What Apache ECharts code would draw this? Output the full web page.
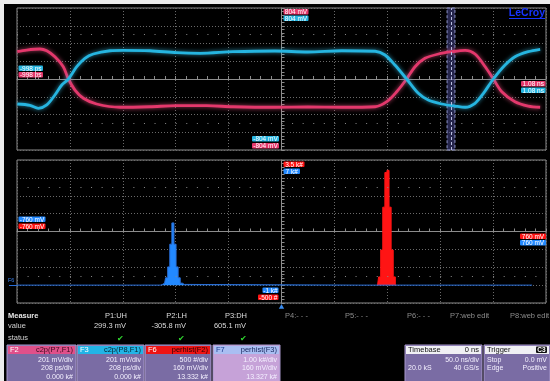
<!DOCTYPE html>
<html>
<head>
<meta charset="utf-8">
<script src="https://cdn.jsdelivr.net/npm/echarts@6/dist/echarts.min.js"></script>
<style>
html, body { margin: 0; padding: 0; background: #000; }
#main { width: 550px; height: 381px; }
</style>
</head>
<body>
<div id="main"></div>
<script>
// F3 (cyan) and F2 (pink) eye traces: time in ps, level in mV
const cyanTime  = [-997,-947,-914,-881,-849,-822,-796,-763,-731,-698,-632,-581,-475,-370,-278,-149,16,146,279,410,449,488,534,580,619,672,724,764,803,836,875,921,960,1012,1059];
const cyanLevel = [-283,-298,-332,-294,-181,-68,0,139,234,283,320,325,320,298,291,309,317,306,320,314,272,158,0,-162,-238,-283,-306,-320,-275,-162,0,158,252,309,336];
const pinkTime  = [-997,-960,-908,-881,-849,-816,-796,-770,-737,-685,-593,-475,-370,-252,-149,16,146,279,410,456,495,534,567,606,659,711,764,803,843,875,908,960,1012,1059];
const pinkLevel = [309,328,340,320,252,139,0,-125,-218,-283,-320,-314,-302,-302,-314,-320,-317,-320,-314,-257,-144,0,139,234,283,309,325,283,139,0,-144,-257,-306,-320];

// Level histograms: bin centres in mV and counts
const binWidth = 6;
const f7Centers = [-342,-336,-330,-324,-318,-312,-306,-300,-294,-288,-282];
const f7Counts  = [40,110,410,1020,2290,3480,2290,1020,410,110,40];
const f6Centers = [282,288,294,300,306,312,318,324];
const f6Counts  = [230,980,2180,3150,3210,2180,980,230];

// Axis extents
const timeRange  = [-998, 1082];   // ps
const levelRange = [-804, 804];    // mV (201 mV/div)
const histRange  = [-760, 760];    // mV
const f6Range    = [-500, 3500];   // counts (500/div)
const f7Range    = [-1000, 7000];  // counts (1k/div)
const histEnd    = 720;            // where the F7 baseline trace ends
const cursorBand = [693, 724];     // ps

// Readout texts
const upperTags = { left: '-998 ps', right: '1.08 ns', top: '804 mV', bottom: '-804 mV' };
const lowerTags = { left: '-760 mV', right: '760 mV', topRed: '3.5 k#', topBlue: '7 k#', botBlue: '-1 k#', botRed: '-500 #' };
const paramNames  = ['P1:UH', 'P2:LH', 'P3:DH'];
const paramValues = ['299.3 mV', '-305.8 mV', '605.1 mV'];
const spareParams = ['P4:- - -', 'P5:- - -', 'P6:- - -', 'P7:web edit', 'P8:web edit'];

const CYAN = '#26b5e0', PINK = '#e4386c', RED = '#ff1414', BLUE = '#2289ff';
const FONT = '"Liberation Sans", Arial, sans-serif';
const fnt = (s, w) => (w || 'normal') + ' ' + s + 'px ' + FONT;

function steps(centers, counts, lo, hi) {
  const pts = [];
  if (lo != null) pts.push([lo, 0]);
  pts.push([centers[0] - binWidth, 0]);
  centers.forEach((c, i) => pts.push([c, counts[i]]));
  pts.push([centers[centers.length - 1] + binWidth, 0]);
  if (hi != null) pts.push([hi, 0]);
  return pts;
}

function txt(x, y, s, fill, size, align, weight, z) {
  const a = align || 'left';
  return { type: 'text', x: x, y: y, z: z || 100,
    style: { text: s, fill: fill, font: fnt(size, weight), align: a, textAlign: a,
             verticalAlign: 'middle', textVerticalAlign: 'middle' } };
}
function tag(x, y, w, h, bg, s, fg) {
  return [
    { type: 'rect', z: 100, shape: { x: x, y: y, width: w, height: h, r: 1 }, style: { fill: bg } },
    txt(x + w / 2, y + h / 2 + 0.5, s, fg || '#fff', 6.5, 'center', null, 101)
  ];
}
function panel(x, w, hdrBg, lLbl, lFg, rLbl, rFg, bodyBg, rows) {
  const y = 345, h = 42;
  const out = [
    { type: 'rect', z: 100, shape: { x: x, y: y, width: w, height: h }, style: { fill: bodyBg, stroke: '#a898cc', lineWidth: 1 } },
    { type: 'rect', z: 100, shape: { x: x + 1, y: y + 1, width: w - 2, height: 8 }, style: { fill: hdrBg } },
    txt(x + 3, y + 5, lLbl, lFg, 7.5, 'left', null, 101),
    txt(x + w - 3, y + 5, rLbl, rFg, 7.5, 'right', null, 101)
  ];
  rows.forEach((r, i) => {
    const ry = y + 15 + i * 8.3;
    if (r[0]) out.push(txt(x + 3, ry, r[0], '#f4f0ff', 7, 'left', null, 101));
    if (r[1]) out.push(txt(x + w - 3, ry, r[1], '#f4f0ff', 7, 'right', null, 101));
  });
  return out;
}

// Division axes carry the graticule and the centre cross
function divAxis(gridIndex, half, pos, zeroIdx) {
  return {
    type: 'value', gridIndex: gridIndex, min: -half, max: half, interval: 1, position: pos,
    axisLine: { show: true, onZero: true, onZeroAxisIndex: zeroIdx, lineStyle: { color: '#8c8c8c', width: 1 } },
    axisTick: { show: true, inside: true, length: 3, lineStyle: { color: '#8c8c8c' } },
    minorTick: { show: true, splitNumber: 5, length: 3, lineStyle: { color: '#8c8c8c' } },
    axisLabel: { show: false },
    splitLine: { show: true, lineStyle: { color: '#6a6a6a', type: [1, 2], width: 1 } }
  };
}
function dataAxis(gridIndex, range, pos) {
  return { type: 'value', gridIndex: gridIndex, min: range[0], max: range[1], position: pos, show: false,
           axisLine: { onZero: false }, splitLine: { show: false } };
}

const dotRow = { type: [1, 9.58], color: '#8a8a8a', width: 1 };

const graphics = [].concat(
  [
    { type: 'rect', z: 100, shape: { x: 0, y: 0, width: 550, height: 4 }, style: { fill: '#ececec' } },
    { type: 'rect', z: 100, shape: { x: 0, y: 0, width: 4, height: 381 }, style: { fill: '#ececec' } },
    txt(545, 13.5, 'LeCroy', '#1634ff', 10.5, 'right', 'bold'),
    { type: 'line', z: 100, shape: { x1: 509, y1: 18.5, x2: 545, y2: 18.5 }, style: { stroke: '#1634ff', lineWidth: 1 } }
  ],
  // upper readouts
  tag(18.5, 65.5, 24.5, 5.5, CYAN, upperTags.left),
  tag(18.5, 72, 24.5, 5.5, PINK, upperTags.left),
  tag(283.5, 9, 25, 5.5, PINK, upperTags.top),
  tag(283.5, 15.5, 25, 5.5, CYAN, upperTags.top),
  tag(521, 81, 24.5, 5.5, PINK, upperTags.right),
  tag(521, 87.5, 24.5, 5.5, CYAN, upperTags.right),
  tag(252, 136, 27, 5.5, CYAN, upperTags.bottom),
  tag(252, 143, 27, 5.5, PINK, upperTags.bottom),
  // lower readouts
  tag(283.5, 161.5, 21, 5.5, RED, lowerTags.topRed),
  tag(283.5, 168.5, 16.5, 5.5, BLUE, lowerTags.topBlue),
  tag(18.5, 216.5, 27, 5.5, BLUE, lowerTags.left),
  tag(18.5, 223.5, 27, 5.5, RED, lowerTags.left),
  tag(520, 233.5, 26, 5.5, RED, lowerTags.right),
  tag(520, 240, 26, 5.5, BLUE, lowerTags.right),
  tag(262.5, 287.5, 16, 5.5, BLUE, lowerTags.botBlue),
  tag(258, 294.5, 20.5, 5.5, RED, lowerTags.botRed),
  [
    txt(8, 280.5, 'F6', '#3a7fe8', 5.5, 'left'),
    { type: 'line', z: 100, shape: { x1: 9, y1: 285.5, x2: 17, y2: 285.5 }, style: { stroke: '#2a6fd8', lineWidth: 1 } },
    { type: 'polygon', z: 100, shape: { points: [[281.5, 304], [278.8, 308.8], [284.2, 308.8]] }, style: { fill: '#3a8cf0' } },
    // measurement table
    txt(8, 315.7, 'Measure', '#e6e6e6', 7.5, 'left', 'bold'),
    txt(8, 325.7, 'value', '#d0d0d0', 7.5, 'left'),
    txt(8, 338.3, 'status', '#d0d0d0', 7.5, 'left')
  ],
  paramNames.map((p, i) => txt(127 + i * 60, 315.7, p, '#dcdcdc', 7.5, 'right')),
  paramValues.map((v, i) => txt(126 + i * 60, 325.7, v, '#dcdcdc', 7.5, 'right')),
  paramNames.map((p, i) => txt(120 + i * 61.5, 338.3, '\u2714', '#30d830', 8, 'center')),
  spareParams.map((p, i) => txt([285, 345, 407, 450, 510][i], 315.7, p, '#8c8c8c', 7.5, 'left')),
  panel(7, 69, '#e0508a', 'F2', '#ffffff', 'c2p(P7,F1)', '#3a0a1e', '#7a6ca4', [['', '201 mV/div'], ['', '208 ps/div'], ['', '0.000 k#']]),
  panel(77, 67, '#22b4e6', 'F3', '#ffffff', 'c2p(P8,F1)', '#05222e', '#7a6ca4', [['', '201 mV/div'], ['', '208 ps/div'], ['', '0.000 k#']]),
  panel(145, 66, '#ee1414', 'F6', '#ffffff', 'perhist(F2)', '#2a0000', '#7a6ca4', [['', '500 #/div'], ['', '160 mV/div'], ['', '13.332 k#']]),
  panel(213, 67, '#a9bef2', 'F7', '#1b3a90', 'perhist(F3)', '#1b2a60', '#c6a2d8', [['', '1.00 k#/div'], ['', '160 mV/div'], ['', '13.327 k#']]),
  panel(405, 77, '#f0f0f4', 'Timebase', '#111111', '0 ns', '#111111', '#7a6ca4', [['', '50.0 ns/div'], ['20.0 kS', '40 GS/s']]),
  panel(484, 66, '#f0f0f4', 'Trigger', '#111111', '', '#111111', '#7a6ca4', [['Stop', '0.0 mV'], ['Edge', 'Positive']]),
  [
    { type: 'rect', z: 102, shape: { x: 536, y: 346.5, width: 11, height: 6.5, r: 1 }, style: { fill: '#111' } },
    txt(541.5, 350, 'C3', '#ffffff', 6.5, 'center', 'bold', 103)
  ]
);

const option = {
  backgroundColor: '#000',
  animation: false,
  grid: [
    { left: 17, top: 8, width: 529, height: 142, show: true, borderColor: '#8c8c8c', borderWidth: 1, backgroundColor: 'transparent' },
    { left: 17, top: 160, width: 529, height: 143, show: true, borderColor: '#8c8c8c', borderWidth: 1, backgroundColor: 'transparent' }
  ],
  xAxis: [
    divAxis(0, 5, 'bottom', 0),
    dataAxis(0, timeRange, 'top'),
    divAxis(1, 5, 'bottom', 2),
    dataAxis(1, histRange, 'top')
  ],
  yAxis: [
    divAxis(0, 4, 'left', 0),
    dataAxis(0, levelRange, 'right'),
    divAxis(1, 4, 'left', 2),
    dataAxis(1, f6Range, 'right'),
    dataAxis(1, f7Range, 'right')
  ],
  series: [
    {
      name: 'F2', type: 'line', xAxisIndex: 1, yAxisIndex: 1, smooth: 0.3, symbol: 'none',
      data: pinkTime.map((t, i) => [t, pinkLevel[i]]),
      lineStyle: { color: PINK, width: 2.8, shadowColor: 'rgba(255,90,140,0.7)', shadowBlur: 4 }
    },
    {
      name: 'F3', type: 'line', xAxisIndex: 1, yAxisIndex: 1, smooth: 0.3, symbol: 'none',
      data: cyanTime.map((t, i) => [t, cyanLevel[i]]),
      lineStyle: { color: CYAN, width: 2.8, shadowColor: 'rgba(60,200,240,0.7)', shadowBlur: 4 },
      markArea: {
        silent: true,
        itemStyle: { color: 'rgba(70,70,140,0.55)', borderColor: '#8d93c8', borderWidth: 1, borderType: [3, 2] },
        data: [[{ xAxis: cursorBand[0] }, { xAxis: cursorBand[1] }]]
      },
      markLine: {
        silent: true, symbol: 'none', label: { show: false },
        data: [
          { yAxis: levelRange[1] * 0.625, lineStyle: dotRow },
          { yAxis: levelRange[0] * 0.625, lineStyle: dotRow },
          { xAxis: (cursorBand[0] + cursorBand[1]) / 2, lineStyle: { color: '#b8bce0', type: [3, 2], width: 1 } }
        ]
      }
    },
    {
      name: 'F6', type: 'line', xAxisIndex: 3, yAxisIndex: 3, step: 'middle', symbol: 'none',
      data: steps(f6Centers, f6Counts),
      lineStyle: { color: RED, width: 1 },
      areaStyle: { color: RED, opacity: 1, origin: 'auto' }
    },
    {
      name: 'F7', type: 'line', xAxisIndex: 3, yAxisIndex: 4, step: 'middle', symbol: 'none',
      data: steps(f7Centers, f7Counts, histRange[0], histEnd),
      lineStyle: { color: '#2a6fd8', width: 1 },
      areaStyle: { color: BLUE, opacity: 1, origin: 'auto' },
      markLine: {
        silent: true, symbol: 'none', label: { show: false },
        data: [
          { yAxis: 3000 + 2500, lineStyle: dotRow },
          { yAxis: 3000 - 2500, lineStyle: dotRow }
        ]
      }
    }
  ],
  graphic: { elements: graphics }
};

const chart = echarts.init(document.getElementById('main'));
chart.setOption(option);
</script>
</body>
</html>
